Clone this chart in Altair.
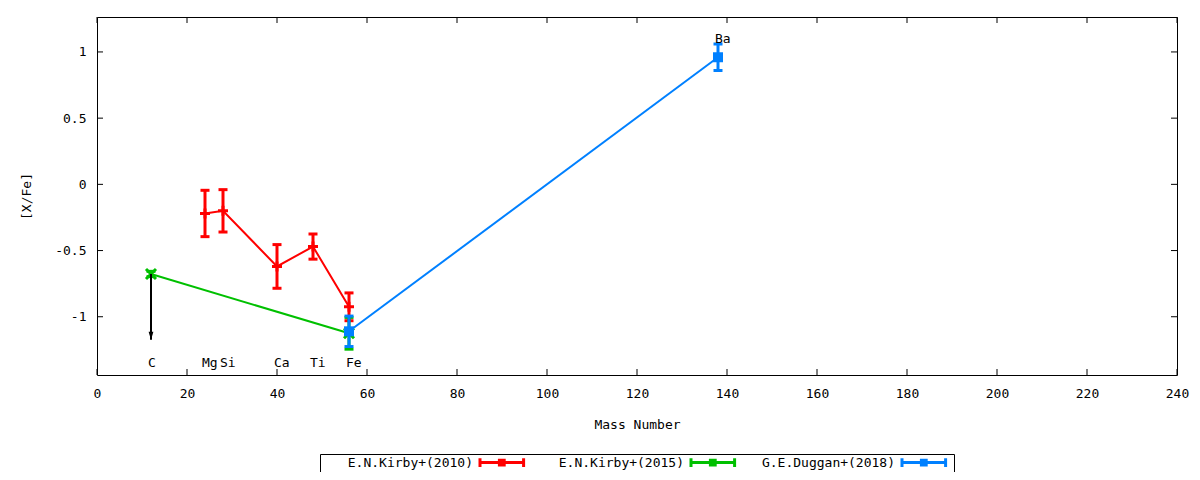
import altair as alt
import pandas as pd

# ---------------- data ----------------
series_names = ["E.N.Kirby+(2010)", "E.N.Kirby+(2015)", "G.E.Duggan+(2018)"]
series_colors = ["#ff0000", "#00c000", "#0080ff"]

kirby2010_mass = [24, 28, 40, 48, 56]
kirby2010_xfe = [-0.22, -0.20, -0.62, -0.47, -0.925]
kirby2010_err = [0.175, 0.16, 0.165, 0.095, 0.105]

kirby2015_mass = [12, 56]
kirby2015_xfe = [-0.677, -1.125]
kirby2015_err = [0.02, 0.12]

duggan2018_mass = [56, 138]
duggan2018_xfe = [-1.11, 0.96]
duggan2018_err = [0.115, 0.10]

limit_mass = [12]
limit_from = [-0.677]
limit_to = [-1.173]

element_names = ["C", "Mg", "Si", "Ca", "Ti", "Fe", "Ba"]
element_mass = [12, 24, 28, 40, 48, 56, 138]
element_label_y = [-1.346, -1.346, -1.346, -1.346, -1.346, -1.346, 1.10]

x_tick_values = [0, 20, 40, 60, 80, 100, 120, 140, 160, 180, 200, 220, 240]
y_tick_values = [-1, -0.5, 0, 0.5, 1]

# ---------------- layout ----------------
W, H = 1080, 358
FONT = "DejaVu Sans Mono"
FS = 13


def frame(mass, xfe, err, name):
    return pd.DataFrame({
        "mass": mass,
        "xfe": xfe,
        "lo": [v - e for v, e in zip(xfe, err)],
        "hi": [v + e for v, e in zip(xfe, err)],
        "series": [name] * len(mass),
    })


d10 = frame(kirby2010_mass, kirby2010_xfe, kirby2010_err, series_names[0])
d15 = frame(kirby2015_mass, kirby2015_xfe, kirby2015_err, series_names[1])
d18 = frame(duggan2018_mass, duggan2018_xfe, duggan2018_err, series_names[2])

xscale = alt.Scale(domain=[0, 240], nice=False, zero=False)
yscale = alt.Scale(domain=[-1.44, 1.264], nice=False, zero=False)

axis_style = dict(labelFont=FONT, labelFontSize=FS, labelColor="black",
                  titleFont=FONT, titleFontSize=FS, titleColor="black",
                  titleFontWeight="normal", ticks=False, tickSize=0,
                  domain=False, grid=False, labelFlush=False, labelOverlap=False,
                  labelExpr="'' + datum.value")
xaxis = alt.Axis(values=x_tick_values, labelPadding=12, titleY=49,
                 titleBaseline="middle", **axis_style)
yaxis = alt.Axis(values=y_tick_values, labelPadding=11, titleX=-64, titleY=H / 2,
                 **axis_style)

X = alt.X("mass:Q", scale=xscale, axis=xaxis, title="Mass Number")
Y = alt.Y("xfe:Q", scale=yscale, axis=yaxis, title="[X/Fe]")

# gnuplot-style key: right-aligned label followed by the sample.
# symbolSize 64 -> 4 px per path unit, path relative to the nominal symbol centre
legend_symbol = ("M37.875,0L48.775,0M37.875,-1.1L37.875,1.1M48.775,-1.1L48.775,1.1"
                 "M42.725,-0.6L43.925,-0.6L43.925,0.6L42.725,0.6Z")
color = alt.Color(
    "series:N",
    scale=alt.Scale(domain=series_names, range=series_colors),
    legend=alt.Legend(
        title=None, orient="none", legendX=223, legendY=437, direction="horizontal",
        columns=3, symbolType=legend_symbol, symbolSize=64, symbolStrokeWidth=3,
        strokeColor="black", padding=2, columnPadding=3, labelFont=FONT,
        labelFontSize=FS, labelColor="black", labelLimit=400, labelOffset=138,
        labelAlign="right",
    ),
    sort=series_names,
)

plus_shape = "M-1,0L1,0M0,-1L0,1"
cross_shape = "M-1,-1L1,1M-1,1L1,-1"


def series_layers(df, col, marker):
    line = alt.Chart(df).mark_line(strokeWidth=2).encode(x=X, y=Y, color=color)
    bar = alt.Chart(df).mark_rule(strokeWidth=3, color=col).encode(
        x=X, y=alt.Y("lo:Q", scale=yscale), y2="hi:Q")
    cap_lo = alt.Chart(df).mark_tick(orient="horizontal", size=9, thickness=3, color=col, opacity=1).encode(
        x=X, y=alt.Y("lo:Q", scale=yscale))
    cap_hi = alt.Chart(df).mark_tick(orient="horizontal", size=9, thickness=3, color=col, opacity=1).encode(
        x=X, y=alt.Y("hi:Q", scale=yscale))
    if marker == "square":
        pt = alt.Chart(df).mark_point(shape="square", filled=True, size=100, color=col, opacity=1).encode(x=X, y=Y)
    else:
        pt = alt.Chart(df).mark_point(shape=marker, filled=False, size=100, strokeWidth=3,
                                      color=col, opacity=1).encode(x=X, y=Y)
    return [line, bar, cap_lo, cap_hi, pt]


layers = []
layers += series_layers(d10, series_colors[0], plus_shape)
layers += series_layers(d15, series_colors[1], cross_shape)
layers += series_layers(d18, series_colors[2], "square")

# upper-limit arrow
arrow_df = pd.DataFrame({"mass": limit_mass, "xfe": limit_from, "end": limit_to})
arrow_line = alt.Chart(arrow_df).mark_rule(color="black", strokeWidth=2).encode(
    x=X, y=Y, y2="end:Q")
arrow_head = alt.Chart(arrow_df).mark_point(
    shape="M-0.6,-2L0.6,-2L0,0Z", filled=True, size=64, color="black", opacity=1
).encode(x=X, y=alt.Y("end:Q", scale=yscale))
layers += [arrow_line, arrow_head]

# element labels
lab_df = pd.DataFrame({"mass": element_mass, "xfe": element_label_y, "name": element_names})
labels = alt.Chart(lab_df).mark_text(
    align="left", baseline="middle", dx=-3, font=FONT, fontSize=FS, color="black"
).encode(x=X, y=Y, text="name:N")
layers.append(labels)

# inward ticks (gnuplot style, mirrored)
xt = pd.DataFrame({"mass": x_tick_values})
yt = pd.DataFrame({"xfe": y_tick_values})
tick_bottom = alt.Chart(xt).mark_rule(color="black", strokeWidth=1).encode(
    x=X, y=alt.value(H), y2=alt.value(H - 6))
tick_top = alt.Chart(xt).mark_rule(color="black", strokeWidth=1).encode(
    x=X, y=alt.value(0), y2=alt.value(6))
tick_left = alt.Chart(yt).mark_rule(color="black", strokeWidth=1).encode(
    y=Y, x=alt.value(0), x2=alt.value(6))
tick_right = alt.Chart(yt).mark_rule(color="black", strokeWidth=1).encode(
    y=Y, x=alt.value(W), x2=alt.value(W - 6))
layers += [tick_bottom, tick_top, tick_left, tick_right]

chart = alt.layer(*layers).properties(
    width=W, height=H,
    autosize=alt.AutoSizeParams(type="none"),
    padding={"left": 89, "top": 9, "right": 15, "bottom": 97},
    background="white",
).configure(
    font=FONT
).configure_view(
    stroke="black", strokeWidth=1
)

chart.save("out.html", embed_options={"renderer": "svg", "actions": False})
